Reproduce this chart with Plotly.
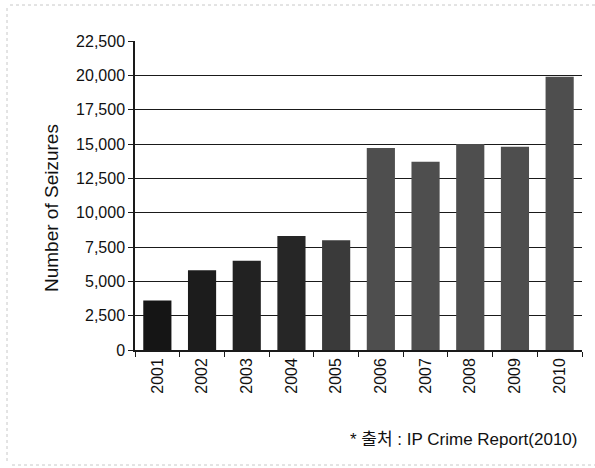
import plotly.graph_objects as go

years = ["2001", "2002", "2003", "2004", "2005", "2006", "2007", "2008", "2009", "2010"]
seizures = [3600, 5800, 6500, 8300, 8000, 14700, 13700, 15000, 14800, 19900]
bar_colors = ["#151515", "#1c1c1c", "#222222", "#262626", "#3a3a3a",
              "#4e4e4e", "#4e4e4e", "#4e4e4e", "#4e4e4e", "#4e4e4e"]
y_ticks = [0, 2500, 5000, 7500, 10000, 12500, 15000, 17500, 20000, 22500]
y_title = "Number of Seizures"
source_note = "* 출처 : IP Crime Report(2010)"

FONT = "Liberation Sans, Arial, Noto Sans CJK KR, sans-serif"

fig = go.Figure(go.Bar(
    x=years, y=seizures,
    marker=dict(color=bar_colors, line=dict(width=0)),
    width=0.63,
))

W, H = 595, 468
L, R, T, B = 135, 13, 41, 118
pw, ph = W - L - R, H - T - B

def px_x(p):
    return (p - L) / pw

def px_y(p):
    return (H - B - p) / ph

fig.update_layout(
    width=W, height=H,
    margin=dict(l=L, r=R, t=T, b=B, pad=0),
    paper_bgcolor="white", plot_bgcolor="white",
    font=dict(family=FONT, size=16, color="#111111"),
    showlegend=False,
)
fig.update_yaxes(
    range=[0, 22500], tickvals=y_ticks,
    tickformat=",d",
    showgrid=True, gridcolor="#1a1a1a", gridwidth=1.3,
    showline=True, linecolor="#1a1a1a", linewidth=1.5,
    ticks="outside", ticklen=5, tickcolor="#1a1a1a",
    zeroline=False,
    tickfont=dict(size=16, family=FONT),
)
fig.update_xaxes(
    type="category",
    showline=True, linecolor="#1a1a1a", linewidth=1.5,
    ticks="outside", ticklen=5, tickcolor="#1a1a1a", tickson="boundaries",
    tickangle=-90, tickfont=dict(size=16, family=FONT),
    showgrid=False,
)

fig.add_annotation(
    text=y_title, textangle=-90, showarrow=False,
    xref="paper", yref="paper", x=px_x(51), y=px_y(208),
    xanchor="center", yanchor="middle",
    font=dict(size=19, family=FONT, color="#111111"),
)
fig.add_annotation(
    text=source_note, showarrow=False,
    xref="paper", yref="paper", x=px_x(580), y=px_y(440),
    xanchor="right", yanchor="middle",
    font=dict(size=17, family=FONT, color="#111111"),
)

# faint scanned frame
fig.add_shape(type="line", xref="paper", yref="paper",
              x0=px_x(10), x1=px_x(595), y0=px_y(5), y1=px_y(5),
              line=dict(color="#c8c8c8", width=1, dash="dot"))
fig.add_shape(type="line", xref="paper", yref="paper",
              x0=px_x(7), x1=px_x(7), y0=px_y(8), y1=px_y(462),
              line=dict(color="#c8c8c8", width=1, dash="dot"))
fig.add_shape(type="line", xref="paper", yref="paper",
              x0=px_x(12), x1=px_x(595), y0=px_y(465), y1=px_y(465),
              line=dict(color="#c8c8c8", width=1, dash="dot"))

fig.write_html("out.html", config={"displayModeBar": False},
               post_script="document.body.style.margin='0px';")
